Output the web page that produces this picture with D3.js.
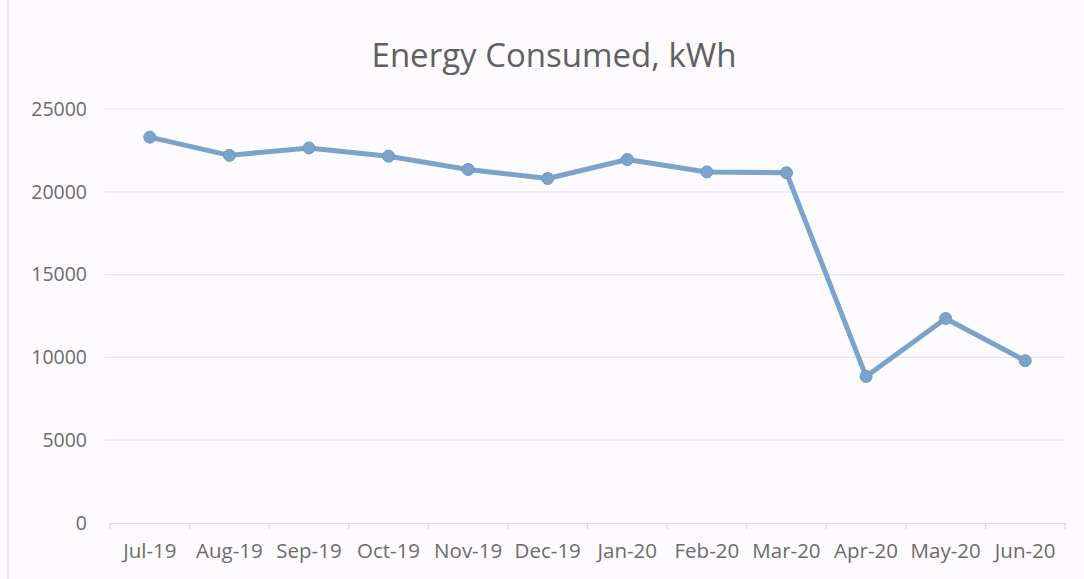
<!DOCTYPE html>
<html><head><meta charset="utf-8">
<script src="https://cdn.jsdelivr.net/npm/d3@7"></script>
<style>body{margin:0;background:#fdfbfd;}svg{display:block;}</style>
</head><body><svg id="chart" width="1084" height="579"></svg>
<script>
const categories = ["Jul-19","Aug-19","Sep-19","Oct-19","Nov-19","Dec-19","Jan-20","Feb-20","Mar-20","Apr-20","May-20","Jun-20"];
const energy = [23300,22200,22650,22150,21350,20800,21950,21200,21150,8850,12350,9800];
const yTicks = [0,5000,10000,15000,20000,25000];
const title = "Energy Consumed, kWh";

const svg = d3.select("#chart");
const font = "'Open Sans', sans-serif";
const m = {left:110, right:1065, top:109, bottom:523};
svg.append("rect").attr("width",1084).attr("height",579).attr("fill","#fdfbfd");
svg.append("line").attr("x1",8).attr("x2",8).attr("y1",0).attr("y2",579).attr("stroke","#dcdadc").attr("stroke-width",1);

const x = d3.scaleBand().domain(categories).range([m.left,m.right]);
const y = d3.scaleLinear().domain([0,25000]).range([m.bottom,m.top]);

// gridlines
svg.append("g").selectAll("line").data(yTicks.filter(d=>d>0)).join("line")
  .attr("x1",m.left-5).attr("x2",m.right).attr("y1",d=>y(d)).attr("y2",d=>y(d))
  .attr("stroke","#eae6ea").attr("stroke-width",1.2);

// y labels
svg.append("g").selectAll("text").data(yTicks).join("text")
  .attr("x",87).attr("y",d=>y(d)).attr("dy","0.35em").attr("text-anchor","end")
  .attr("font-family",font).attr("font-size",19.5).attr("fill","#6c6c6c")
  .text(d=>d);

// x axis
const xa = svg.append("g").attr("transform",`translate(0,${m.bottom})`)
  .call(d3.axisBottom(x).tickSize(0).tickPadding(20));
xa.select(".domain").attr("stroke","#dcd8dc").attr("stroke-width",1.2);
xa.selectAll("text").attr("font-family",font).attr("font-size",20.5).attr("fill","#6c6c6c");
const bounds = categories.map(c=>x(c)).concat([m.right]);
svg.append("g").selectAll("line").data(bounds).join("line")
  .attr("x1",d=>d).attr("x2",d=>d).attr("y1",m.bottom).attr("y2",m.bottom+6)
  .attr("stroke","#dcd8dc").attr("stroke-width",1.2);

// line
const cx = c=>x(c)+x.bandwidth()/2;
svg.append("path").datum(energy)
  .attr("d",d3.line().x((d,i)=>cx(categories[i])).y(d=>y(d)))
  .attr("fill","none").attr("stroke","#7ba3cb").attr("stroke-width",5).attr("stroke-linejoin","round");
svg.append("g").selectAll("circle").data(energy).join("circle")
  .attr("cx",(d,i)=>cx(categories[i])).attr("cy",d=>y(d)).attr("r",6)
  .attr("fill","#7ba3cb").attr("stroke","#6e98c2").attr("stroke-width",1);

svg.append("text").attr("x",554).attr("y",67).attr("text-anchor","middle")
  .attr("font-family",font).attr("font-size",33).attr("fill","#606060").text(title);
</script></body></html>
